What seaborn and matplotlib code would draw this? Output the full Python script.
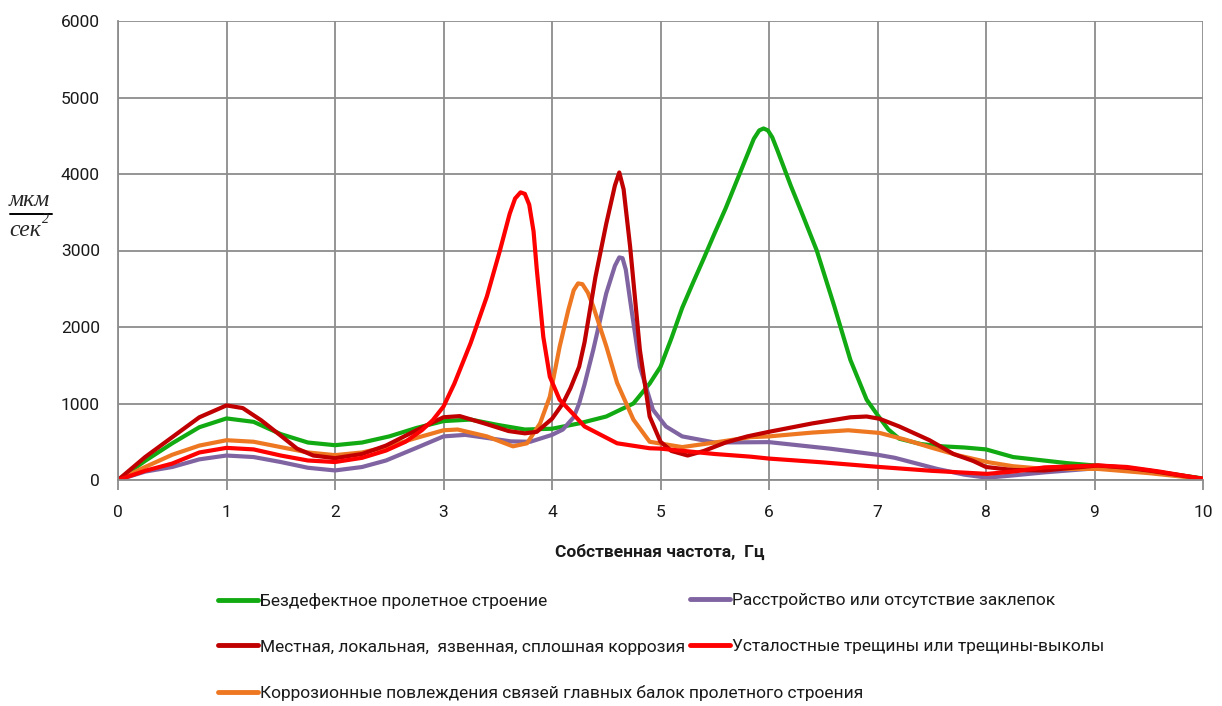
import numpy as np
import pandas as pd
import matplotlib
matplotlib.use("Agg")
import matplotlib.pyplot as plt
import seaborn as sns
from matplotlib.lines import Line2D

sns.set_style("white")
plt.rcParams['font.family'] = ['Roboto', 'DejaVu Sans']

labels = [
    "Бездефектное пролетное строение",
    "Местная, локальная,  язвенная, сплошная коррозия",
    "Коррозионные повлеждения связей главных балок пролетного строения",
    "Расстройство или отсутствие заклепок",
    "Усталостные трещины или трещины-выколы",
]
colors = ["#12AA12", "#C00000", "#EE7722", "#8064A2", "#FF0000"]

green_x = [0, 0.25, 0.5, 0.75, 1.0, 1.25, 1.5, 1.75, 2.0, 2.25, 2.5, 2.75, 3.0, 3.25, 3.5, 3.75, 4.0, 4.25,
           4.5, 4.75, 4.9, 5.0, 5.1, 5.2, 5.3, 5.4, 5.5, 5.6, 5.7, 5.8, 5.86, 5.91, 5.95, 5.99, 6.03, 6.08, 6.2,
           6.3, 6.44, 6.6, 6.75, 6.9, 7.0, 7.1, 7.2, 7.4, 7.6, 7.8, 8.0, 8.25, 8.5, 8.75, 9.0, 9.5, 10]
green_y = [0, 250, 480, 690, 805, 760, 600, 490, 455, 490, 570, 680, 770, 790, 720, 660, 670, 740,
           830, 1000, 1260, 1480, 1850, 2250, 2580, 2900, 3230, 3550, 3900, 4250, 4460, 4570, 4595, 4570, 4480, 4300, 3850,
           3500, 3000, 2280, 1570, 1050, 850, 660, 540, 470, 440, 425, 400, 300, 260, 220, 190, 120, 20]

darkred_x = [0, 0.25, 0.5, 0.75, 1.0, 1.15, 1.32, 1.5, 1.65, 1.8, 2.0, 2.25, 2.47, 2.75, 3.0, 3.15, 3.4, 3.6,
             3.75, 3.86, 4.0, 4.1, 4.17, 4.25, 4.3, 4.4, 4.5, 4.58, 4.62, 4.66, 4.72, 4.81, 4.9, 5.0, 5.1, 5.25,
             5.4, 5.6, 5.8, 6.0, 6.4, 6.75, 6.9, 7.02, 7.2, 7.48, 7.7, 7.88, 8.0, 8.25, 8.54, 8.8, 9.03, 9.3,
             9.52, 10]
darkred_y = [0, 300, 560, 820, 975, 940, 780, 580, 410, 320, 285, 340, 450, 650, 820, 835, 730, 640,
             610, 630, 800, 1000, 1200, 1480, 1800, 2650, 3350, 3850, 4020, 3800, 3050, 1700, 830, 500, 380, 320,
             380, 490, 570, 630, 740, 820, 830, 800, 700, 520, 340, 250, 170, 130, 125, 160, 190, 160,
             120, 15]

orange_x = [0, 0.25, 0.5, 0.75, 1.0, 1.25, 1.5, 1.75, 2.0, 2.25, 2.47, 2.75, 3.0, 3.13, 3.4, 3.64, 3.77, 3.89,
            3.98, 4.07, 4.15, 4.2, 4.24, 4.28, 4.33, 4.38, 4.5, 4.6, 4.75, 4.9, 5.2, 5.5, 5.83, 6.0, 6.4, 6.73,
            7.02, 7.25, 7.48, 7.75, 8.01, 8.25, 8.54, 9.03, 9.5, 10]
orange_y = [0, 170, 330, 450, 520, 500, 430, 360, 325, 360, 430, 550, 650, 660, 570, 440, 480, 740,
            1090, 1740, 2220, 2480, 2570, 2560, 2450, 2270, 1750, 1270, 790, 500, 430, 490, 560, 570, 620, 650,
            615, 530, 430, 320, 235, 180, 145, 145, 90, 15]

purple_x = [0, 0.25, 0.5, 0.75, 1.0, 1.25, 1.5, 1.75, 2.0, 2.25, 2.47, 2.75, 3.0, 3.2, 3.4, 3.62, 3.8, 4.0,
            4.1, 4.2, 4.25, 4.3, 4.38, 4.5, 4.58, 4.62, 4.65, 4.68, 4.72, 4.81, 4.93, 5.05, 5.2, 5.5, 6.0, 6.56,
            7.0, 7.16, 7.55, 7.8, 8.01, 8.25, 8.54, 9.03, 9.5, 10]
purple_y = [0, 110, 170, 270, 320, 300, 235, 160, 125, 170, 255, 420, 570, 590, 550, 505, 500, 590,
            660, 820, 1000, 1250, 1700, 2440, 2800, 2910, 2900, 2750, 2350, 1480, 920, 700, 570, 490, 495, 410,
            330, 290, 145, 70, 30, 60, 100, 155, 110, 15]

red_x = [0, 0.25, 0.5, 0.75, 1.0, 1.25, 1.5, 1.75, 2.0, 2.25, 2.47, 2.65, 2.8, 2.9, 3.0, 3.1, 3.25, 3.4,
         3.52, 3.61, 3.66, 3.71, 3.75, 3.79, 3.83, 3.86, 3.92, 3.98, 4.07, 4.19, 4.3, 4.6, 4.9, 5.0, 5.5, 5.83,
         6.0, 6.5, 7.02, 7.5, 8.01, 8.25, 8.54, 9.03, 9.3, 9.6, 10]
red_y = [0, 120, 215, 360, 420, 400, 320, 255, 235, 290, 385, 500, 650, 780, 960, 1260, 1790, 2400,
         3000, 3480, 3680, 3760, 3740, 3600, 3250, 2750, 1870, 1350, 1050, 870, 700, 480, 415, 410, 340, 305,
         280, 230, 170, 120, 80, 110, 165, 190, 170, 110, 15]

x_ticks = list(range(0, 11))
y_ticks = [0, 1000, 2000, 3000, 4000, 5000, 6000]
x_label = "Собственная частота,  Гц"

series = [(green_x, green_y), (darkred_x, darkred_y), (orange_x, orange_y),
          (purple_x, purple_y), (red_x, red_y)]
frames = []
for lab, (xs, ys) in zip(labels, series):
    frames.append(pd.DataFrame({"f": xs, "a": ys, "s": lab}))
df = pd.concat(frames, ignore_index=True)

fig = plt.figure(figsize=(12.22, 7.06), dpi=100)
ax = fig.add_axes([118 / 1222, 1 - 480 / 706, (1203 - 118) / 1222, (480 - 21) / 706])

order = [labels[0], labels[3], labels[2], labels[1], labels[4]]
pal = dict(zip(labels, colors))
for lab in order:
    sns.lineplot(data=df[df.s == lab], x="f", y="a", color=pal[lab], lw=3.0,
                 estimator=None, sort=False, ax=ax, legend=False)

ax.set_xlim(0, 10)
ax.set_ylim(0, 6000)
ax.set_xticks(x_ticks)
ax.set_yticks(y_ticks)
ax.grid(True, color="#8c8c8c", lw=1.3)
ax.set_axisbelow(True)
for s in ["top", "right"]:
    ax.spines[s].set_visible(False)
for s in ["left", "bottom"]:
    ax.spines[s].set_color("#8c8c8c")
    ax.spines[s].set_linewidth(1.3)
ax.tick_params(axis="x", length=7, width=1.3, color="#8c8c8c", pad=11, labelsize=12.5, direction="out",
               bottom=True, labelcolor="#1a1a1a")
ax.tick_params(axis="y", length=0, pad=13, labelsize=12.5, labelcolor="#1a1a1a")
ax.set_xlabel("")
ax.set_ylabel("")

fig.text(660 / 1222, 1 - 552 / 706, x_label, ha="center", va="center", fontsize=12.5, fontweight="bold",
         color="#1a1a1a")

# y unit label (fraction)
serif = ["Liberation Serif", "DejaVu Serif"]
fig.text(29 / 1222, 1 - 201 / 706, "мкм", ha="center", va="center", fontsize=17, style="italic", family=serif)
fig.add_artist(Line2D([10 / 1222, 52 / 1222], [1 - 214 / 706, 1 - 214 / 706], color="black", lw=1.4))
fig.text(25 / 1222, 1 - 230 / 706, "сек", ha="center", va="center", fontsize=17, style="italic", family=serif)
fig.text(46 / 1222, 1 - 220 / 706, "2", ha="center", va="center", fontsize=10, style="italic", family=serif)

handles = [Line2D([], [], color=c, lw=3.5) for c in colors]
kw = dict(frameon=False, fontsize=12.5, handlelength=2.3, handletextpad=0.1, borderpad=0,
          borderaxespad=0, labelspacing=1.75, loc="upper left", labelcolor="#1a1a1a")
leg1 = fig.legend(handles[:3], labels[:3], bbox_to_anchor=(218 / 1222, 1 - 593 / 706), **kw)
leg2 = fig.legend(handles[3:], labels[3:], bbox_to_anchor=(690 / 1222, 1 - 593 / 706), **kw)

fig.savefig("out.png", dpi=100)
